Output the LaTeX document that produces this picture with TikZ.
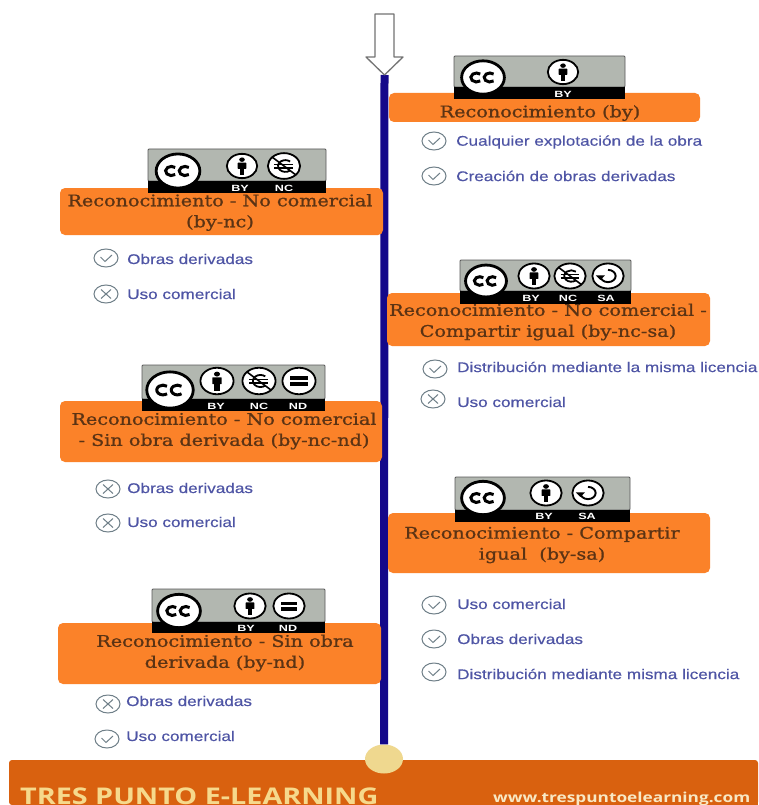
\documentclass[tikz,border=0pt]{standalone}
\usepackage{fontspec}
\usetikzlibrary{shapes.geometric}
\setmainfont{Liberation Sans}
\newfontfamily\boxfont{DejaVu Serif}[FakeStretch=1.2,FakeBold=1]
\newfontfamily\listfont{Liberation Sans}[FakeStretch=1.225,FakeBold=0.35]
\newfontfamily\footfont{Open Sans}[FakeStretch=1.25]
\newfontfamily\stripfont{Liberation Sans}[FakeStretch=1.4]
\definecolor{boxor}{HTML}{FB8229}
\definecolor{boxtx}{HTML}{5B3314}
\definecolor{listtx}{HTML}{4F55A5}
\definecolor{icongr}{HTML}{6F7F88}
\definecolor{spinec}{HTML}{14088A}
\definecolor{footor}{HTML}{D9610F}
\definecolor{dotc}{HTML}{EFD88F}
\definecolor{footta}{HTML}{F6D98C}
\definecolor{foottb}{HTML}{F8E8C4}
\definecolor{badgeg}{HTML}{B2B7B0}
\tikzset{
  x=1pt,y=-1pt,
  licbox/.style={fill=boxor,rounded corners=5pt,inner sep=0pt,anchor=center},
  lictext/.style={text=boxtx,font=\boxfont\fontsize{16}{21}\selectfont,align=center,inner sep=0pt},
  item/.style={text=listtx,font=\listfont\fontsize{14}{15}\selectfont,anchor=west,inner sep=0pt},
  striplabel/.style={text=white,font=\stripfont\fontsize{9}{9}\selectfont\bfseries,inner sep=0pt},
  ring/.style={draw=black,line width=1.8pt,fill=white},
  tickmark/.style={draw=icongr,line width=1pt},
}
% badge: x1 y1 x2 y2 strip-top
\newcommand\badge[5]{%
  \fill[badgeg,draw=black!65,line width=.8pt,rounded corners=1pt] (#1,#2) rectangle (#3,#5);
  \fill[black] (#1,#5) rectangle (#3,#4);}
\newcommand\iconcc[3]{\begin{scope}[shift={(#1,#2)},xscale=#3,yscale=.78*#3]
  \draw[draw=black,fill=white,line width=2.8pt] (0,0) circle[radius=.93];
  \draw[line width=3pt,line cap=butt] (-.28,0) ++(50:.25) arc[start angle=50,delta angle=260,radius=.25];
  \draw[line width=3pt,line cap=butt] (.3,0) ++(50:.25) arc[start angle=50,delta angle=260,radius=.25];
\end{scope}}
\newcommand\iconby[3]{\begin{scope}[shift={(#1,#2)},xscale=#3,yscale=.8*#3]
  \draw[ring] (0,0) circle[radius=.92];
  \fill (0,-.48) circle[radius=.17];
  \fill[rounded corners=.5pt] (-.26,-.26) rectangle (.26,.22);
  \fill (-.14,.2) rectangle (.14,.68);
\end{scope}}
\newcommand\iconnc[3]{\begin{scope}[shift={(#1,#2)},xscale=#3,yscale=.8*#3]
  \draw[ring] (0,0) circle[radius=.92];
  \draw[line width=1.8pt] (.08,0) ++(50:.42) arc[start angle=50,delta angle=260,radius=.42];
  \draw[line width=1.4pt] (-.55,-.12) -- (.5,-.12) (-.55,.14) -- (.5,.14);
  \draw[line width=1.6pt] (-.66,-.62) -- (.66,.62);
\end{scope}}
\newcommand\iconnd[3]{\begin{scope}[shift={(#1,#2)},xscale=#3,yscale=.8*#3]
  \draw[ring] (0,0) circle[radius=.92];
  \fill (-.48,-.32) rectangle (.48,-.08);
  \fill (-.48,.1) rectangle (.48,.34);
\end{scope}}
\newcommand\iconsa[3]{\begin{scope}[shift={(#1,#2)},xscale=#3,yscale=.8*#3]
  \draw[ring] (0,0) circle[radius=.92];
  \draw[line width=1.9pt] (-.45,0) arc[start angle=180,delta angle=-270,radius=.45];
  \fill (-.72,-.05) -- (-.18,-.05) -- (-.45,.3) -- cycle;
\end{scope}}
\newcommand\chk[3]{%
  \node[draw=icongr,line width=1pt,ellipse,minimum width=24pt,minimum height=18pt,inner sep=0pt] (#3) at (#1,#2) {};
  \draw[tickmark] (#1-5.5,#2-1) -- (#1-1,#2+3.5) -- (#1+6,#2-3);}
\newcommand\crs[3]{%
  \node[draw=icongr,line width=1pt,ellipse,minimum width=24pt,minimum height=18pt,inner sep=0pt] (#3) at (#1,#2) {};
  \draw[tickmark] (#1-5,#2-4.5) -- (#1+5,#2+4.5) (#1-5,#2+4.5) -- (#1+5,#2-4.5);}
\begin{document}
\begin{tikzpicture}
\useasboundingbox (0,0) rectangle (758,805);
\clip (0,0) rectangle (758,805);
\fill[white] (0,0) rectangle (758,805);

% footer
\node[fill=footor,minimum width=749pt,minimum height=45pt,inner sep=0pt,rounded corners=3pt] (footer) at (383.5,782.5) {};
\fill[footor] (20,780) rectangle (758,805);
\node[anchor=base west,inner sep=0pt,text=footta,font=\footfont\bfseries\fontsize{23}{26}\selectfont] (brand) at (20,804.5) {TRES PUNTO E-LEARNING};
\node[anchor=base west,inner sep=0pt,text=foottb,font=\footfont\bfseries\fontsize{13.8}{15}\selectfont] (web) at (493,802) {www.trespuntoelearning.com};

% arrow + spine + dot
\coordinate (arrowtip) at (384.5,75);
\node[ellipse,fill=dotc,minimum width=38pt,minimum height=29pt,inner sep=0pt] (dot) at (384,759) {};
\draw[spinec,line width=8pt] (arrowtip) -- (dot.north);
\filldraw[draw=black!55,fill=white,line width=1.3pt,line join=round]
  (375,14) -- (394,14) -- (394,57) -- (403,57) -- (arrowtip) -- (366,57) -- (375,57) -- cycle;

% by
\node[licbox,minimum width=311pt,minimum height=29pt] (b1) at (544.5,107.5) {};
\badge{454}{56}{625}{99}{87}
\iconcc{483}{77.5}{23} \iconby{563}{72}{16.5}
\node[striplabel] (b1a) at (563,94) {BY};
\node[lictext] (t1) at (540,113) {Reconocimiento (by)};
\chk{434}{141}{c11} \node[item] (i11) at (456,142) {Cualquier explotación de la obra};
\chk{434}{176}{c12} \node[item] (i12) at (456,176) {Creación de obras derivadas};

% by-nc
\node[licbox,minimum width=323pt,minimum height=47pt] (b2) at (221.5,211.5) {};
\badge{148}{149}{326}{193}{181}
\iconcc{178}{171}{23.5} \iconby{242}{166}{16.5} \iconnc{284}{166}{17.5}
\node[striplabel] (b2a) at (240,188) {BY};
\node[striplabel] (b2b) at (284,188) {NC};
\node[lictext] (t2) at (220,212.5) {Reconocimiento - No comercial\\(by-nc)};
\chk{106}{258}{c21} \node[item] (i21) at (127,259) {Obras derivadas};
\crs{106}{294}{c22} \node[item] (i22) at (127,294) {Uso comercial};

% by-nc-sa
\node[licbox,minimum width=323pt,minimum height=53pt] (b3) at (548.5,319.5) {};
\badge{460}{260}{631}{304}{291}
\iconcc{486}{281}{22} \iconby{534}{276}{17} \iconnc{570}{276}{17} \iconsa{608}{276}{17}
\node[striplabel] (b3a) at (531,298) {BY};
\node[striplabel] (b3b) at (568,298) {NC};
\node[striplabel] (b3c) at (606,298) {SA};
\node[lictext] (t3) at (548,322) {Reconocimiento - No comercial -\\Compartir igual (by-nc-sa)};
\chk{435}{369}{c31} \node[item] (i31) at (457,367) {Distribución mediante la misma licencia};
\crs{433}{399}{c32} \node[item] (i32) at (457,402) {Uso comercial};

% by-nc-nd
\node[licbox,minimum width=322pt,minimum height=61pt] (b4) at (221,431.5) {};
\badge{142}{365}{325}{411}{399}
\iconcc{170}{390}{25} \iconby{217}{381}{18} \iconnc{259}{381}{18} \iconnd{299}{381}{18}
\node[striplabel] (b4a) at (216,406) {BY};
\node[striplabel] (b4b) at (259,406) {NC};
\node[striplabel] (b4c) at (298,406) {ND};
\node[lictext] (t4) at (224,431) {Reconocimiento - No comercial\\- Sin obra derivada (by-nc-nd)};
\crs{108}{489}{c41} \node[item] (i41) at (127,488) {Obras derivadas};
\crs{108}{523}{c42} \node[item] (i42) at (127,522) {Uso comercial};

% by-sa
\node[licbox,minimum width=322pt,minimum height=60pt] (b5) at (549,543) {};
\badge{455}{477}{630}{522}{510}
\iconcc{483}{498}{23} \iconby{546}{493}{17} \iconsa{588}{493}{17}
\node[striplabel] (b5a) at (544,516) {BY};
\node[striplabel] (b5b) at (587,516) {SA};
\node[lictext] (t5) at (542,545) {Reconocimiento - Compartir\\igual\ \ (by-sa)};
\chk{434}{605}{c51} \node[item] (i51) at (457,604) {Uso comercial};
\chk{434}{639}{c52} \node[item] (i52) at (457,639) {Obras derivadas};
\chk{434}{672}{c53} \node[item] (i53) at (457,674) {Distribución mediante misma licencia};

% by-nd
\node[licbox,minimum width=323pt,minimum height=61pt] (b6) at (219.5,653.5) {};
\badge{152}{589}{325}{633}{622}
\iconcc{179}{611}{23} \iconby{250}{606}{17} \iconnd{289}{606}{17}
\node[striplabel] (b6a) at (246,628) {BY};
\node[striplabel] (b6b) at (288,628) {ND};
\node[lictext] (t6) at (225,653) {Reconocimiento - Sin obra\\derivada (by-nd)};
\crs{108}{704}{c61} \node[item] (i61) at (126,701) {Obras derivadas};
\chk{107}{739}{c62} \node[item] (i62) at (126,736) {Uso comercial};
\end{tikzpicture}
\end{document}
